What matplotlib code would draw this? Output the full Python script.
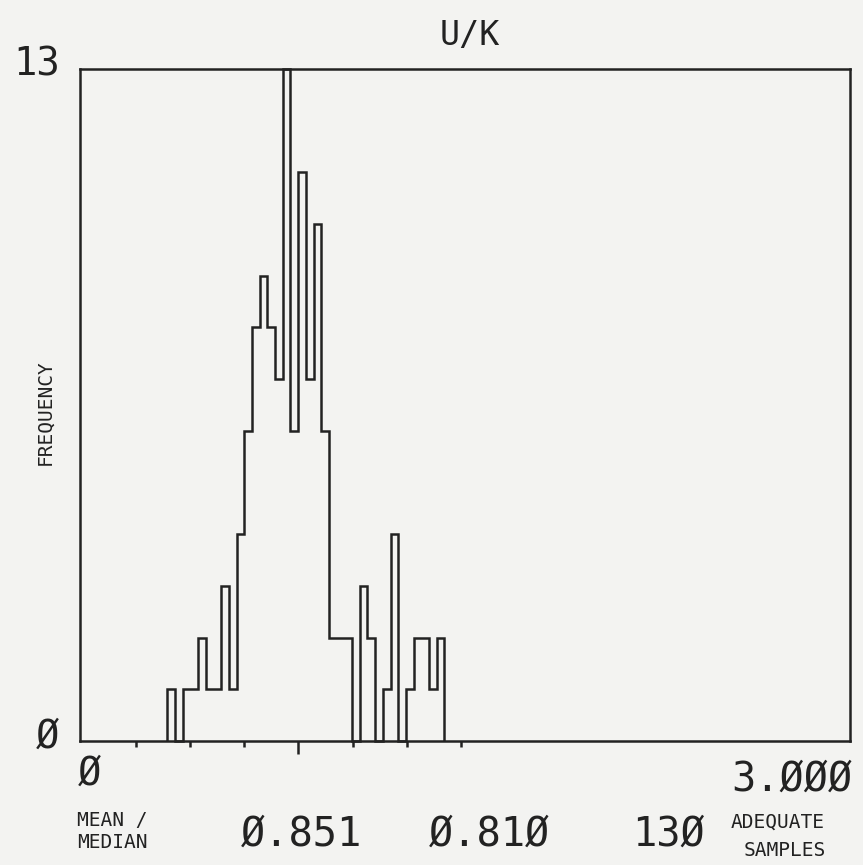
import numpy as np
import matplotlib
matplotlib.use("Agg")
import matplotlib.pyplot as plt

# Histogram of U/K ratios (bin counts, left to right)
bin_start = 0.34
bin_width = 0.03
counts = [1, 0, 1, 1, 2, 1, 1, 3, 1, 4, 6, 8, 9, 8, 7, 13, 6, 11,
          7, 10, 6, 2, 2, 2, 0, 3, 2, 0, 1, 4, 0, 1, 2, 2, 1, 2]

title = "U/K"
x_min, x_max = 0.0, 3.0
y_max = 13
mean_value = 0.851
median_value = 0.810
sd_value = 0.211
sd_steps = [-3, -2, -1, 1, 2, 3]

W, H = 863, 865
BG = "#f3f3f1"
INK = "#222222"
FONT = "DejaVu Sans Mono"


def zslash(s):
    return s.replace("0", "\u00d8")


def px(x, y):
    return x / W, 1 - y / H


fig = plt.figure(figsize=(W / 100, H / 100), dpi=100, facecolor=BG)
ax = fig.add_axes([80 / W, 1 - 741 / H, 770 / W, 672 / H])
ax.set_facecolor(BG)

edges = bin_start + bin_width * np.arange(len(counts) + 1)
ax.stairs(counts, edges, baseline=0, color=INK, lw=1.8, clip_on=False)

ax.set_xlim(x_min, x_max)
ax.set_ylim(0, y_max)
for s in ax.spines.values():
    s.set_color(INK)
    s.set_linewidth(1.8)

ax.set_xticks([mean_value])
ax.set_xticks([mean_value + k * sd_value for k in sd_steps], minor=True)
ax.tick_params(axis="x", which="major", direction="out", length=9, width=1.8,
               color=INK, labelbottom=False)
ax.tick_params(axis="x", which="minor", direction="out", length=4.5, width=1.8,
               color=INK, labelbottom=False)
ax.set_yticks([])

txt = dict(family=FONT, color=INK)

fig.text(*px(470, 36), title, ha="center", va="center", fontsize=24, **txt)
fig.text(*px(37, 65), str(y_max), ha="center", va="center", fontsize=28, **txt)
fig.text(*px(47, 737), zslash("0"), ha="center", va="center", fontsize=28, **txt)
fig.text(*px(45, 412), "FREQUENCY", ha="center", va="center", rotation=90,
         fontsize=14, **txt)

fig.text(*px(89, 774), zslash(f"{x_min:g}"), ha="center", va="center",
         fontsize=28, **txt)
fig.text(*px(792, 780), zslash(f"{x_max:.3f}"), ha="center", va="center",
         fontsize=29, **txt)

fig.text(*px(77, 820), "MEAN /", ha="left", va="center", fontsize=14, **txt)
fig.text(*px(77, 843), "MEDIAN", ha="left", va="center", fontsize=14, **txt)
fig.text(*px(302, 835), zslash(f"{mean_value:.3f}"), ha="center", va="center",
         fontsize=29, **txt)
fig.text(*px(490, 835), zslash(f"{median_value:.3f}"), ha="center", va="center",
         fontsize=29, **txt)
fig.text(*px(668, 835), zslash(str(sum(counts))), ha="center", va="center",
         fontsize=29, **txt)
fig.text(*px(778, 822), "ADEQUATE", ha="center", va="center", fontsize=14, **txt)
fig.text(*px(785, 850), "SAMPLES", ha="center", va="center", fontsize=14, **txt)

fig.savefig("out.png", dpi=100, facecolor=BG)
